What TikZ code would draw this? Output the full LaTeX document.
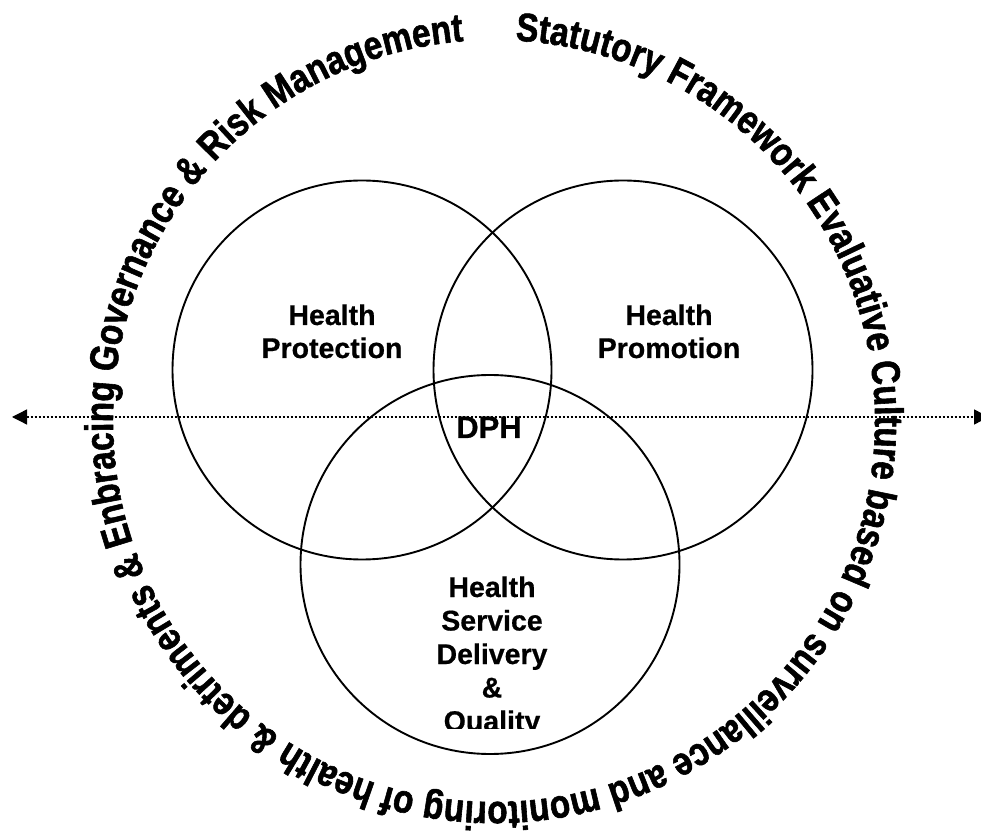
\documentclass[tikz,border=0pt]{standalone}
\usepackage{fontspec}
\setmainfont{Liberation Sans}[BoldFeatures={FakeBold=0.6}]
\newfontfamily\arcfont{Liberation Sans Bold}[FakeStretch=0.835,FakeBold=1.4]
\usetikzlibrary{decorations.text,arrows.meta}
\begin{document}
\begin{tikzpicture}[x=1pt,y=1pt,
  venn/.style={draw=black,line width=1.9pt},
  lbl/.style={anchor=base,inner sep=0pt,font=\bfseries\fontsize{28.5}{33}\selectfont},
  axis/.style={line width=1.3pt,dash pattern=on 2pt off 2pt,
    {Triangle[length=15pt,width=15pt]}-{Triangle[length=15pt,width=15pt]}}]
\useasboundingbox (0,0) rectangle (981,830);
% Venn circles
\draw[venn] (362,460) circle[radius=189.5];
\draw[venn] (623,460) circle[radius=189.5];
\draw[venn] (490,265.5) circle[radius=189.5];
% axis
\coordinate (la) at (12,413);
\coordinate (ra) at (989,413);
\draw[axis] (la) -- (ra);
% labels
\node[lbl] (hp) at (332,505) {\begin{tabular}[t]{@{}c@{}}Health\\Protection\end{tabular}};
\node[lbl] (hm) at (669,505) {\begin{tabular}[t]{@{}c@{}}Health\\Promotion\end{tabular}};
\node[lbl,font=\bfseries\fontsize{31}{33}\selectfont] (dph) at (489,392) {DPH};
\begin{scope}
\clip (280,102) rectangle (700,400);
\node[lbl,font=\bfseries\fontsize{28.5}{33.5}\selectfont] (hsd) at (492,233)
  {\begin{tabular}[t]{@{}c@{}}Health\\Service\\Delivery\\\&\\Quality\end{tabular}};
\end{scope}
% circular text
\coordinate (tc) at (494,409);
\path[decorate,decoration={text along path,text align=left,
  text={|\arcfont\fontsize{40}{48}\selectfont|Statutory Framework Evaluative Culture based on surveillance and monitoring of health {\&} detriments {\&} Enbracing Governance {\&} Risk Management}}]
  (tc) ++(86.8:381) arc[start angle=86.8,end angle=-268,radius=381];
\end{tikzpicture}
\end{document}
